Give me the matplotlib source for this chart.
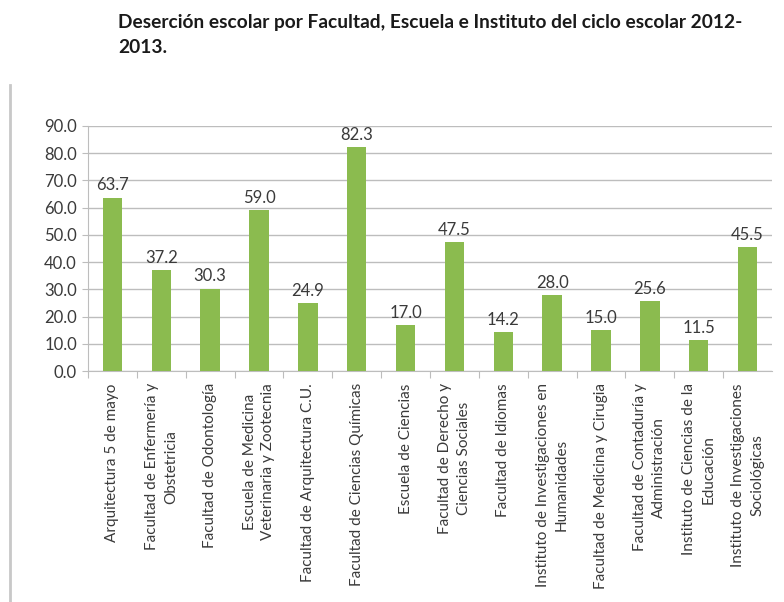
import matplotlib
matplotlib.use("Agg")
import matplotlib.pyplot as plt
from matplotlib.lines import Line2D

categorias = [
    "Arquitectura 5 de mayo",
    "Facultad de Enfermería y\nObstetricia",
    "Facultad de Odontología",
    "Escuela de Medicina\nVeterinaria y Zootecnia",
    "Facultad de Arquitectura C.U.",
    "Facultad de Ciencias Químicas",
    "Escuela de Ciencias",
    "Facultad de Derecho y\nCiencias Sociales",
    "Facultad de Idiomas",
    "Instituto de Investigaciones en\nHumanidades",
    "Facultad de Medicina y Cirugia",
    "Facultad de Contaduría y\nAdministración",
    "Instituto de Ciencias de la\nEducación",
    "Instituto de Investigaciones\nSociológicas",
]
desercion = [63.7, 37.2, 30.3, 59.0, 24.9, 82.3, 17.0, 47.5, 14.2, 28.0, 15.0, 25.6, 11.5, 45.5]
yticks = [0, 10, 20, 30, 40, 50, 60, 70, 80, 90]

plt.rcParams['font.family'] = ['Lato', 'DejaVu Sans']
text_color = '#3a3a3a'
grid_color = '#bdbdbd'

fig = plt.figure(figsize=(7.84, 6.02), dpi=100)
ax = fig.add_axes([88 / 784, 1 - 371 / 602, 684 / 784, 245 / 602])

x = list(range(len(categorias)))
ax.bar(x, desercion, width=0.4, color='#8bbb4f', zorder=3)
for xi, v in zip(x, desercion):
    ax.annotate(f"{v:.1f}", (xi, v), xytext=(0, 3), textcoords='offset points',
                ha='center', va='bottom', fontsize=12, color=text_color)

ax.set_xlim(-0.5, len(categorias) - 0.5)
ax.set_ylim(0, 90)
ax.set_yticks(yticks)
ax.set_yticklabels([f"{t:.1f}" for t in yticks], fontsize=12, color=text_color)
ax.yaxis.grid(True, color=grid_color, linewidth=1, zorder=0)
ax.set_axisbelow(True)

# category labels, ticks between the bars
ax.set_xticks([i + 0.5 for i in x[:-1]] + [-0.5], minor=False)
ax.set_xticklabels([])
ax.tick_params(axis='x', length=5, color=grid_color, direction='out')
ax.tick_params(axis='y', length=4, color=grid_color, pad=4)
for xi, lab in zip(x, categorias):
    ax.text(xi, -4.5, lab, rotation=90, ha='center', va='top', multialignment='center',
            fontsize=11, color=text_color, linespacing=1.45)

for s in ['top', 'right']:
    ax.spines[s].set_visible(False)
ax.spines['left'].set_color(grid_color)
ax.spines['bottom'].set_color(grid_color)

fig.text(118 / 784, 1 - 14 / 602,
         "Deserción escolar por Facultad, Escuela e Instituto del ciclo escolar 2012-\n2013.",
         ha='left', va='top', fontsize=13.8, fontweight='bold', color='#1a1a1a', linespacing=1.6)

# frame line on the left
fig.add_artist(Line2D([10 / 784, 10 / 784], [0, 1 - 85 / 602], transform=fig.transFigure,
                      color='#c8c8c8', linewidth=2))

fig.savefig('out.png', dpi=100)
